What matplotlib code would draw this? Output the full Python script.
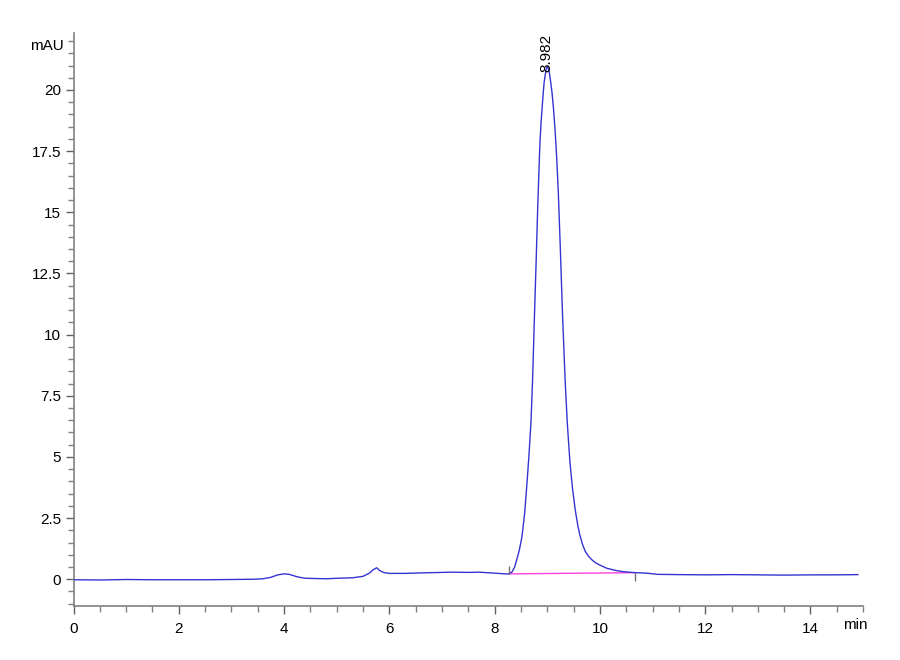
import numpy as np
import matplotlib
matplotlib.use("Agg")
import matplotlib.pyplot as plt
from matplotlib.ticker import MultipleLocator, FormatStrFormatter

# Chromatogram trace (time in min, signal in mAU)
time_min = [
    0.0, 0.5, 1.0, 1.5, 2.0, 2.5, 3.0, 3.4, 3.6, 3.75, 3.88, 4.0, 4.1, 4.25,
    4.4, 4.6, 4.8, 5.0, 5.3, 5.5, 5.62, 5.7, 5.76, 5.82, 5.9, 6.0, 6.3, 6.6,
    7.0, 7.2, 7.5, 7.7, 8.0, 8.2, 8.27, 8.33, 8.38, 8.42, 8.47, 8.52, 8.57,
    8.61, 8.65, 8.69, 8.72, 8.75, 8.79, 8.82, 8.86, 8.88, 8.90, 8.92, 8.94,
    8.96, 8.98, 9.00, 9.02, 9.04, 9.06, 9.09, 9.12, 9.15, 9.18, 9.21, 9.25,
    9.29, 9.34, 9.38, 9.43, 9.48, 9.53, 9.58, 9.62, 9.67, 9.72, 9.78, 9.85,
    9.92, 10.0, 10.13, 10.3, 10.44, 10.67, 10.89, 11.1, 11.5, 12.0, 12.5,
    13.0, 13.5, 14.0, 14.5, 14.9,
]
signal_mau = [
    -0.02, -0.03, -0.01, -0.02, -0.02, -0.02, -0.01, 0.0, 0.02, 0.08, 0.18,
    0.22, 0.2, 0.1, 0.04, 0.03, 0.02, 0.04, 0.06, 0.12, 0.25, 0.4, 0.47,
    0.35, 0.27, 0.24, 0.24, 0.26, 0.28, 0.29, 0.28, 0.29, 0.25, 0.22, 0.22,
    0.3, 0.5, 0.8, 1.2, 1.75, 2.7, 3.8, 5.0, 6.4, 8.1, 10.3, 13.1, 15.3,
    17.8, 18.6, 19.2, 19.8, 20.3, 20.6, 20.85, 20.95, 20.9, 20.7, 20.4,
    19.9, 19.2, 18.3, 17.2, 15.8, 13.4, 10.8, 8.1, 6.4, 4.8, 3.7, 2.85, 2.2,
    1.8, 1.42, 1.15, 0.95, 0.79, 0.67, 0.58, 0.45, 0.36, 0.31, 0.27, 0.25,
    0.2, 0.19, 0.18, 0.19, 0.18, 0.17, 0.18, 0.18, 0.19,
]

# integration baseline of the main peak
peak_bounds_t = [8.27, 10.67]
peak_bounds_y = [0.22, 0.27]
peak_rt = 8.982
peak_height = 20.75

plt.rcParams["font.family"] = ["Liberation Sans", "DejaVu Sans"]

fig = plt.figure(figsize=(9, 6.6), dpi=100)
ax = fig.add_axes([0.0817, 0.0823, 0.8773, 0.8677])

ax.plot(time_min, signal_mau, color="#3434d4", linewidth=1.0, zorder=3)
ax.plot(peak_bounds_t, peak_bounds_y, color="#ff40e0", linewidth=1.0, zorder=2)
# start / end markers of the integration
ax.plot(peak_bounds_t[0], peak_bounds_y[0], marker=2, color="#707070",
        markersize=6, markeredgewidth=1.0, zorder=4)
ax.plot(peak_bounds_t[1], peak_bounds_y[1], marker=3, color="#707070",
        markersize=6, markeredgewidth=1.0, zorder=4)

ax.text(peak_rt, peak_height, f"{peak_rt:.3f}", rotation=90, ha="center",
        va="bottom", fontsize=11, color="black")

ax.set_xlim(0, 15)
ax.set_ylim(-1.08, 22.33)

ax.xaxis.set_major_locator(MultipleLocator(2))
ax.xaxis.set_minor_locator(MultipleLocator(0.5))
ax.yaxis.set_major_locator(MultipleLocator(2.5))
ax.yaxis.set_minor_locator(MultipleLocator(0.5))
ax.yaxis.set_major_formatter(FormatStrFormatter("%g"))
ax.xaxis.set_major_formatter(FormatStrFormatter("%g"))

for side in ["top", "right"]:
    ax.spines[side].set_visible(False)
for side in ["left", "bottom"]:
    ax.spines[side].set_color("#808080")
    ax.spines[side].set_linewidth(1.2)

ax.tick_params(axis="both", which="major", length=6, width=1, color="#606060",
               labelsize=11, direction="out")
ax.tick_params(axis="both", which="minor", length=4, width=1, color="#808080",
               direction="out")
ax.tick_params(axis="x", pad=6)
ax.tick_params(axis="y", pad=3)

ax.text(-0.012, 21.8, "mAU", transform=ax.get_yaxis_transform(), ha="right",
        va="center", fontsize=11)
ax.text(14.85, -0.022, "min", transform=ax.get_xaxis_transform(), ha="center",
        va="top", fontsize=11)

fig.savefig("out.png", dpi=100)
